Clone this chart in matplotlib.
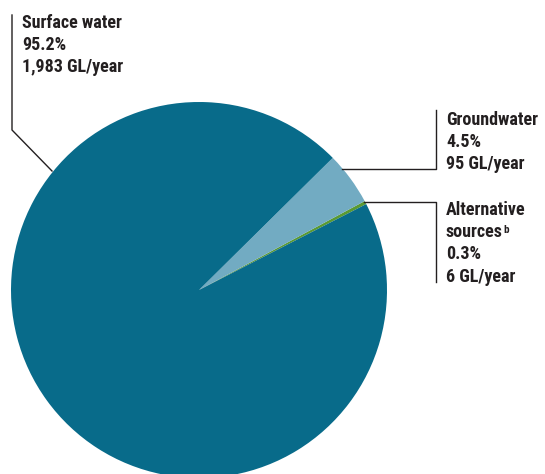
import matplotlib.pyplot as plt

# Water sources (GL/year)
sources = ["Alternative sources", "Groundwater", "Surface water"]
volumes = [6, 95, 1983]
percents = ["0.3%", "4.5%", "95.2%"]
volume_labels = ["6 GL/year", "95 GL/year", "1,983 GL/year"]
colors = ["#5b9a32", "#72abc2", "#086b8a"]

text_color = "#231f20"
font = ["Roboto Condensed", "DejaVu Sans"]

fig = plt.figure(figsize=(5.45, 4.74), dpi=100)
ax = fig.add_axes([0, 0, 1, 1])

# pie in pixel coordinates, y axis pointing down
ax.pie(volumes, colors=colors, center=(199, 290), radius=188,
       startangle=-27.2, counterclock=False,
       wedgeprops=dict(linewidth=0, edgecolor="none"))
ax.set_xlim(0, 545)
ax.set_ylim(474, 0)
ax.set_aspect("equal")
ax.axis("off")

# leader lines
ax.plot([12, 12, 52], [15, 130, 171], color=text_color, lw=1)
ax.plot([342, 436, 436], [169, 169, 110], color=text_color, lw=1)
ax.plot([364, 436, 436], [202, 202, 282], color=text_color, lw=1)

tkw = dict(fontsize=13, fontweight="bold", color=text_color, family=font,
           va="baseline", ha="left")

# surface water label
ax.text(22, 28, "Surface water", **tkw)
ax.text(22, 50, percents[2], **tkw)
ax.text(22, 72, volume_labels[2], **tkw)

# groundwater label
ax.text(446, 125, "Groundwater", **tkw)
ax.text(446, 147, percents[1], **tkw)
ax.text(446, 169, volume_labels[1], **tkw)

# alternative sources label
ax.text(446, 215, "Alternative", **tkw)
src = ax.text(446, 237, "sources", **tkw)
ax.annotate("b", xy=(1, 1), xycoords=src, xytext=(0, -1.5), textcoords="offset points",
            fontsize=8, fontweight="bold", color=text_color, family=font,
            va="top", ha="left")
ax.text(446, 259, percents[0], **tkw)
ax.text(446, 282, volume_labels[0], **tkw)

fig.savefig("out.png", dpi=100)
